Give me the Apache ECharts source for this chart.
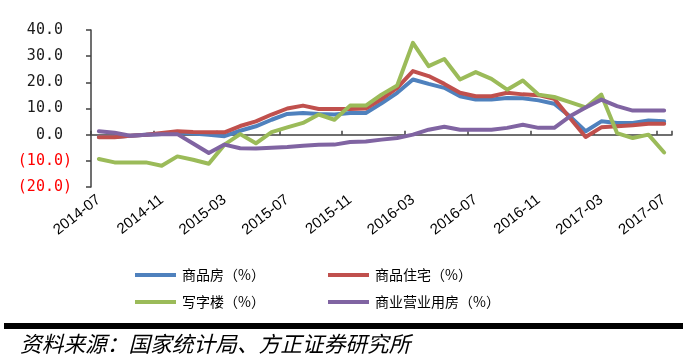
<!DOCTYPE html>
<html><head><meta charset="utf-8">
<script src="https://cdn.jsdelivr.net/npm/echarts@6/dist/echarts.min.js"></script>
<style>html,body{margin:0;padding:0;background:#fff}#c{width:683px;height:358px}</style>
</head><body><div id="c"></div>
<script>
const categories = ['2014-07','2014-08','2014-09','2014-10','2014-11','2014-12','2015-01','2015-02','2015-03','2015-04','2015-05','2015-06','2015-07','2015-08','2015-09','2015-10','2015-11','2015-12','2016-01','2016-02','2016-03','2016-04','2016-05','2016-06','2016-07','2016-08','2016-09','2016-10','2016-11','2016-12','2017-01','2017-02','2017-03','2017-04','2017-05','2017-06','2017-07'];
const seriesNames = ['商品房（%）','商品住宅（%）','写字楼（%）','商业营业用房（%）'];
const commodityHousing = [-0.9,-0.9,-0.4,0,0.3,0.8,0.4,0.0,-0.6,1.5,3.2,5.7,7.9,8.3,7.9,7.7,8.3,8.3,12.0,16.0,21.1,19.4,17.9,14.7,13.4,13.4,14.0,13.9,13.1,11.8,7.0,1.3,5.1,4.5,4.5,5.4,5.1];
const residential = [-1.0,-1.0,-0.4,0,0.6,1.3,1.0,0.9,0.9,3.3,5.1,7.7,10.0,11.1,9.8,9.8,9.8,10.0,13.6,17.9,24.3,22.4,19.4,16.0,14.7,14.7,16.0,15.4,15.1,13.7,6.4,-0.9,2.8,3.2,3.6,4.2,4.2];
const office = [-9.3,-10.6,-10.6,-10.6,-11.9,-8.3,-9.6,-11.1,-3.8,0.2,-3.3,1.0,2.8,4.5,7.7,5.7,11.1,11.1,15.3,18.8,35.1,26.2,28.9,21.1,23.9,21.3,17.2,20.7,15.3,14.4,12.4,10.4,15.3,0.6,-1.3,0,-6.8];
const commercial = [1.3,0.7,-0.4,0,0.2,0.2,-3.4,-7.0,-3.8,-5.2,-5.3,-5.0,-4.7,-4.2,-3.9,-3.8,-2.8,-2.6,-1.9,-1.3,0,1.9,3.0,1.9,1.9,1.9,2.6,3.8,2.6,2.6,7.0,10.4,13.4,10.9,9.2,9.2,9.2];
const yMin = -20, yMax = 40, yStep = 10;
const colors = ['#4F81BD','#C0504D','#9BBB59','#8064A2'];
const sourceText = '资料来源：国家统计局、方正证券研究所';

const chart = echarts.init(document.getElementById('c'), null, {renderer:'canvas'});
const seriesData = [commodityHousing, residential, office, commercial];
const legendPos = [[135,268],[328,268],[135,295],[328,295]];
const cjk = '"Noto Sans CJK SC", sans-serif';
const mono = '"DejaVu Sans Mono", monospace';
const sans = '"Liberation Sans", Arial, sans-serif';

chart.setOption({
  animation: false,
  color: colors,
  grid: {left: 91, right: 11, top: 30, bottom: 171, containLabel: false},
  xAxis: {
    type: 'category',
    data: categories,
    boundaryGap: true,
    axisLine: {lineStyle: {color: '#404040', width: 1.5}},
    axisTick: {show: true, inside: true, length: 4, interval: 3, lineStyle: {color: '#404040', width: 1.5}},
    axisLabel: {interval: 3, rotate: 38, margin: 11, color: '#000', fontFamily: sans, fontSize: 15},
    splitLine: {show: false}
  },
  yAxis: {
    type: 'value',
    min: yMin, max: yMax, interval: yStep,
    axisLine: {show: true, lineStyle: {color: '#404040', width: 1.5}},
    axisTick: {show: true, length: 5, lineStyle: {color: '#404040', width: 1.5}},
    splitLine: {show: false},
    axisLabel: {
      margin: 19,
      fontFamily: mono, fontSize: 15,
      formatter: v => v >= 0 ? `{p|${v.toFixed(1)}}{h|)}` : `{n|(${(-v).toFixed(1)})}`,
      rich: {
        p: {color: '#1a1a1a', fontFamily: mono, fontSize: 15},
        h: {color: 'rgba(0,0,0,0)', fontFamily: mono, fontSize: 15},
        n: {color: '#FF0000', fontFamily: mono, fontSize: 15}
      }
    }
  },
  legend: seriesNames.map((n, i) => ({
    data: [n], left: legendPos[i][0], top: legendPos[i][1], padding: 0,
    icon: 'rect', itemWidth: 41, itemHeight: 4, itemGap: 0, selectedMode: false,
    textStyle: {fontFamily: cjk, fontSize: 14, color: '#000', padding: [0,0,0,1]}
  })),
  series: seriesNames.map((n, i) => ({
    name: n, type: 'line', data: seriesData[i], symbol: 'none',
    lineStyle: {width: 4, color: colors[i], join: 'round', cap: 'round'},
    itemStyle: {color: colors[i]}
  })),
  graphic: [
    {type: 'rect', left: 4, top: 323, shape: {width: 679, height: 6}, style: {fill: '#000'}},
    {type: 'text', left: 20, top: 333, style: {text: sourceText, fill: '#000', font: 'italic 21.7px "Noto Sans CJK SC"'}}
  ]
});
</script></body></html>
